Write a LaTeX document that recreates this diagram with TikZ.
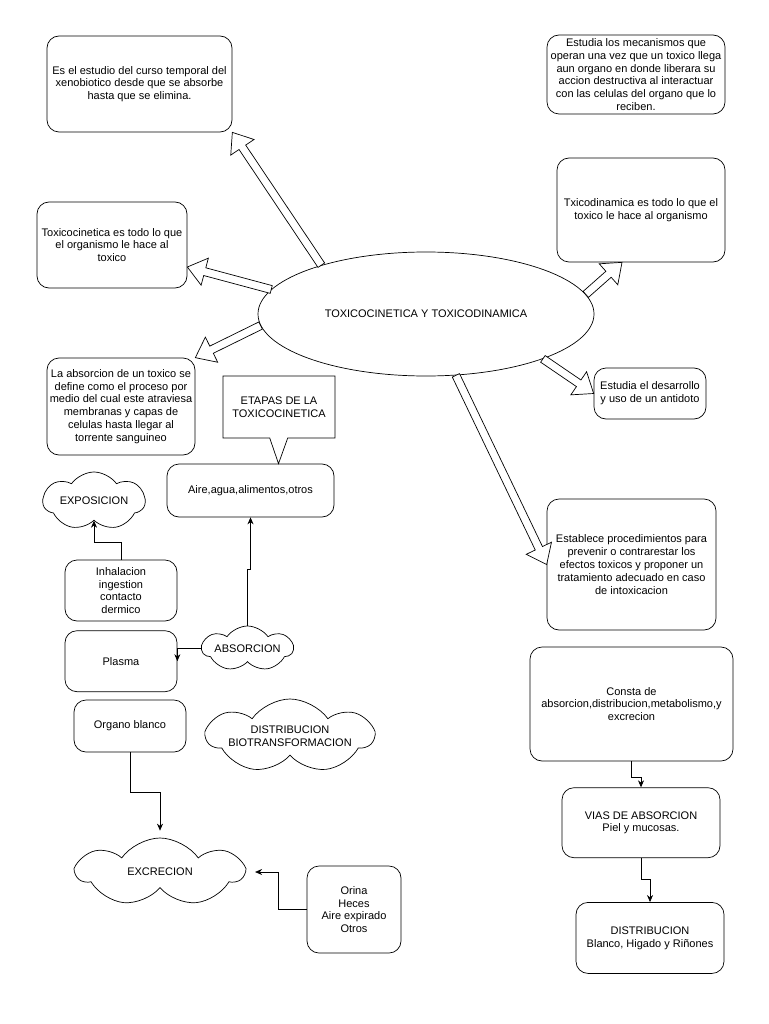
\documentclass[tikz,border=0pt]{standalone}
\usepackage{fontspec}
\setmainfont{Liberation Sans}
\usepackage{tikz}
\usetikzlibrary{arrows.meta, positioning, calc, shapes}

\tikzset{
  box/.style={draw, line width=0.7pt, rounded corners=12pt, align=center, inner sep=1pt},
  puff/.style={draw, line width=0.7pt, cloud, cloud puffs=7, cloud puff arc=110, cloud ignores aspect, align=center, inner xsep=-18pt, inner ysep=-2pt},
  tagbox/.style={draw, line width=0.7pt, rectangle callout, align=center, callout pointer width=18pt},
  link/.style={line width=0.7pt, -{Stealth[length=7pt,width=6pt]}},
  hollow/.style={draw, fill=white, line width=0.7pt, to path={
    let \p1=(\tikztostart), \p2=(\tikztotarget),
        \n1={atan2(\y2-\y1,\x2-\x1)}, \n2={veclen(\x2-\x1,\y2-\y1)-18} in
    ($(\p1)+(\n1+90:4pt)$) -- ++(\n1:\n2) -- ++(\n1+90:10pt) -- (\p2)
    -- ($(\p1)+(\n1:\n2)+(\n1-90:14pt)$) -- ++(\n1+90:10pt) -- ++(\n1+180:\n2) -- cycle}}
}

\begin{document}
\begin{tikzpicture}[x=1pt, y=-1pt, font=\fontsize{11}{12.8}\selectfont]
\path[use as bounding box, fill=white] (0,0) rectangle (768,1024);

\node[draw, ellipse, line width=0.7pt, minimum width=336pt, minimum height=124pt] (toxi) at (426,314) {TOXICOCINETICA Y TOXICODINAMICA};

\node[box, minimum width=185pt, minimum height=96pt] (estudio) at (139.5,84) {Es el estudio del curso temporal del\\xenobiotico desde que se absorbe\\hasta que se elimina.};
\node[box, minimum width=178pt, minimum height=79pt] (mecan) at (636,74.5) {Estudia los mecanismos que\\operan una vez que un toxico llega\\aun organo en donde liberara su\\accion destructiva al interactuar\\con las celulas del organo que lo\\reciben.};
\node[box, minimum width=168pt, minimum height=104pt] (txico) at (641,210) {Txicodinamica es todo lo que el\\toxico le hace al organismo};
\node[box, minimum width=150pt, minimum height=86pt] (tox) at (112,245) {Toxicocinetica es todo lo que\\el organismo le hace al\\toxico};
\node[box, minimum width=148pt, minimum height=97pt] (absdef) at (121,406.5) {La absorcion de un toxico se\\define como el proceso por\\medio del cual este atraviesa\\membranas y capas de\\celulas hasta llegar al\\torrente sanguineo};
\node[box, minimum width=112pt, minimum height=51pt] (antid) at (650,393.5) {Estudia el desarrollo\\y uso de un antidoto};
\node[box, minimum width=169pt, minimum height=131pt] (estab) at (631.5,564.5) {Establece procedimientos para\\prevenir o contrarestar los\\efectos toxicos y proponer un\\tratamiento adecuado en caso\\de intoxicacion};

\node[box, minimum width=167pt, minimum height=53pt] (aire) at (250.5,490.5) {Aire,agua,alimentos,otros};
\node[tagbox, minimum width=112pt, minimum height=62pt, callout absolute pointer={($(aire.north)+(28,0)$)}] (etapas) at (279,407) {ETAPAS DE LA\\TOXICOCINETICA};

\node[puff, minimum width=102pt, minimum height=58pt] (expo) at (94,501) {EXPOSICION};
\node[box, minimum width=112pt, minimum height=61pt] (inh) at (121,590.5) {Inhalacion\\ingestion\\contacto\\dermico};
\node[box, minimum width=112pt, minimum height=61pt, below=9pt of inh] (plasma) {Plasma};
\node[puff, minimum width=91pt, minimum height=45pt] (absn) at (247.5,648.5) {ABSORCION};
\node[box, minimum width=112pt, minimum height=52pt] (org) at (130,726) {Organo blanco};
\node[puff, minimum width=166pt, minimum height=74pt] (dist) at (290,736) {DISTRIBUCION\\BIOTRANSFORMACION};
\node[puff, minimum width=166pt, minimum height=68pt] (excr) at (160,872) {EXCRECION};
\node[box, minimum width=94pt, minimum height=87pt] (orina) at (354,909.5) {Orina\\Heces\\Aire expirado\\Otros};

\node[box, minimum width=203pt, minimum height=114pt] (consta) at (631.5,704) {Consta de\\absorcion,distribucion,metabolismo,y\\excrecion};
\node[box, minimum width=158pt, minimum height=70pt, below=26pt of consta, xshift=9.5pt] (vias) {VIAS DE ABSORCION\\Piel y mucosas.};
\node[box, minimum width=148pt, minimum height=71pt, below=44pt of vias, xshift=9pt] (distr) {DISTRIBUCION\\Blanco, Higado y Riñones};

\draw[hollow] (toxi.155) to (estudio.south east);
\draw[hollow] (toxi.171) to ($(tox.east)+(0,22)$);
\draw[hollow] (toxi.184) to (absdef.north east);
\draw[hollow] (toxi.7) to ($(txico.south)+(-19,0)$);
\draw[hollow] (toxi.339) to (antid.west);
\draw[hollow] (toxi.296) to (estab.west);

\draw[link] (inh.north) -- ++(0,-17) -| (expo.south);
\draw[link] (absn.north) -- ++(0,-56) -| (aire.south);
\draw[link] (absn.west) -| (plasma.east);
\draw[link, shorten >=7pt] (org.south) -- ++(0,40) -| (excr.north);
\draw[link, shorten >=9pt] (orina.west) -- ++(-28,0) |- (excr.east);
\draw[link] (consta.south) -- ++(0,16) -| (vias.north);
\draw[link] (vias.south) -- ++(0,21) -| (distr.north);
\end{tikzpicture}
\end{document}
